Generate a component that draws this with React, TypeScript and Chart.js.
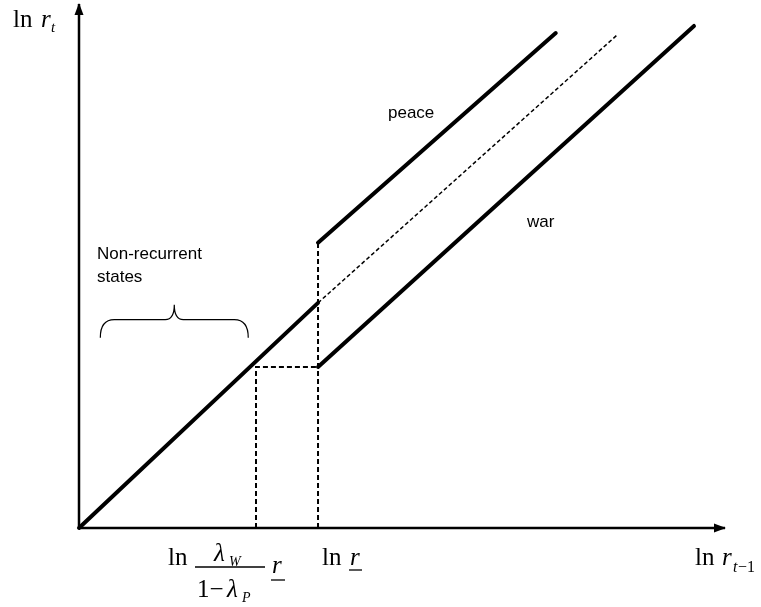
import React, { useEffect, useRef } from "react";
import { Chart, registerables } from "chart.js";

Chart.register(...registerables);

// Data (in ln units)
const xLow = [0, 3.7];
const yLow = [0, 3.48];
const xPeace = [3.7, 7.38];
const yPeace = [4.41, 7.65];
const xWar = [3.7, 9.52];
const yWar = [2.49, 7.76];
const xDotted = [3.7, 8.34];
const yDotted = [3.48, 7.63];
const xThreshold = [3.7, 3.7];
const yThreshold = [0, 4.41];
const xKink = [2.74, 2.74, 3.7];
const yKink = [0, 2.49, 2.49];
const xAxisLine = [0, 10];
const yAxisLine = [0, 0];
const xYAxisLine = [0, 0];
const yYAxisLine = [0, 8.1];
const braceX = [0.33, 2.62];
const braceY = [2.94, 3.22, 3.45];

const pts = (xs: number[], ys: number[]) => xs.map((x, i) => ({ x, y: ys[i] }));

const SERIF = '"Liberation Serif", "Times New Roman", serif';
const SANS = '"Liberation Sans", Arial, sans-serif';

const labelsPlugin = {
  id: "labels",
  afterDatasetsDraw(chart: any) {
    const ctx = chart.ctx;
    const xs = chart.scales.x;
    const ys = chart.scales.y;
    const px = (v: number) => xs.getPixelForValue(v);
    const py = (v: number) => ys.getPixelForValue(v);
    ctx.save();
    ctx.fillStyle = "#000";
    ctx.strokeStyle = "#000";

    // arrowheads
    const ax = px(xAxisLine[1]);
    const ay = py(0);
    ctx.beginPath();
    ctx.moveTo(ax + 1, ay);
    ctx.lineTo(ax - 11, ay - 4.5);
    ctx.lineTo(ax - 11, ay + 4.5);
    ctx.closePath();
    ctx.fill();
    const bx = px(0);
    const by = py(yYAxisLine[1]);
    ctx.beginPath();
    ctx.moveTo(bx, by - 1);
    ctx.lineTo(bx - 4.5, by + 11);
    ctx.lineTo(bx + 4.5, by + 11);
    ctx.closePath();
    ctx.fill();

    // brace
    const L = px(braceX[0]);
    const R = px(braceX[1]);
    const M = (L + R) / 2;
    const yb = py(braceY[0]);
    const yf = py(braceY[1]);
    const yt = py(braceY[2]);
    ctx.lineWidth = 1.2;
    ctx.beginPath();
    ctx.moveTo(L, yb);
    ctx.quadraticCurveTo(L, yf, L + 14, yf);
    ctx.lineTo(M - 9, yf);
    ctx.quadraticCurveTo(M, yf, M, yt);
    ctx.quadraticCurveTo(M, yf, M + 9, yf);
    ctx.lineTo(R - 14, yf);
    ctx.quadraticCurveTo(R, yf, R, yb);
    ctx.stroke();

    ctx.textBaseline = "alphabetic";
    ctx.textAlign = "left";

    // y axis label: ln r_t
    ctx.font = `25px ${SERIF}`;
    ctx.fillText("ln", 13, 27);
    ctx.font = `italic 25px ${SERIF}`;
    ctx.fillText("r", 41, 27);
    ctx.font = `italic 15px ${SERIF}`;
    ctx.fillText("t", 51, 32);

    // x axis label: ln r_{t-1}
    const xl = 695;
    const xb = py(0) + 37;
    ctx.font = `25px ${SERIF}`;
    ctx.fillText("ln", xl, xb);
    ctx.font = `italic 25px ${SERIF}`;
    ctx.fillText("r", xl + 27, xb);
    ctx.font = `italic 16px ${SERIF}`;
    ctx.fillText("t", xl + 38, xb + 7);
    ctx.font = `16px ${SERIF}`;
    ctx.fillText("\u22121", xl + 43, xb + 7);

    // ln r (underlined) under threshold
    const tx = px(xThreshold[0]) + 4;
    ctx.font = `25px ${SERIF}`;
    ctx.fillText("ln", tx, xb);
    ctx.font = `italic 25px ${SERIF}`;
    ctx.fillText("r", tx + 28, xb);
    ctx.lineWidth = 1.3;
    ctx.beginPath();
    ctx.moveTo(tx + 27, xb + 5);
    ctx.lineTo(tx + 40, xb + 5);
    ctx.stroke();

    // ln lambda_W / (1 - lambda_P) r
    const kx = px(xKink[0]);
    const lx = kx - 88;
    ctx.font = `25px ${SERIF}`;
    ctx.fillText("ln", lx, xb);
    const fc = kx - 26; // fraction center
    ctx.font = `italic 25px ${SERIF}`;
    ctx.fillText("\u03bb", fc - 16, xb - 4);
    ctx.font = `italic 14px ${SERIF}`;
    ctx.fillText("W", fc - 1, xb + 1);
    ctx.lineWidth = 1.3;
    ctx.beginPath();
    ctx.moveTo(fc - 35, xb + 2);
    ctx.lineTo(fc + 35, xb + 2);
    ctx.stroke();
    ctx.font = `25px ${SERIF}`;
    ctx.fillText("1\u2212", fc - 33, xb + 32);
    ctx.font = `italic 25px ${SERIF}`;
    ctx.fillText("\u03bb", fc - 3, xb + 32);
    ctx.font = `italic 14px ${SERIF}`;
    ctx.fillText("P", fc + 12, xb + 37);
    ctx.font = `italic 25px ${SERIF}`;
    ctx.fillText("r", fc + 42, xb + 8);
    ctx.beginPath();
    ctx.moveTo(fc + 41, xb + 15);
    ctx.lineTo(fc + 55, xb + 15);
    ctx.stroke();

    // text labels
    ctx.font = `17px ${SANS}`;
    ctx.fillText("peace", 388, 118);
    ctx.fillText("war", 527, 227);
    ctx.fillText("Non-recurrent", 97, 259);
    ctx.fillText("states", 97, 282);

    ctx.restore();
  },
};

export default function App() {
  const ref = useRef<HTMLCanvasElement | null>(null);
  useEffect(() => {
    document.body.style.margin = "0";
    const canvas = ref.current;
    if (!canvas) return;
    const solid = (xs: number[], ys: number[]) => ({
      data: pts(xs, ys),
      showLine: true,
      borderColor: "#000",
      borderWidth: 4,
      borderCapStyle: "round" as const,
      pointRadius: 0,
      clip: false as any,
    });
    const dashed = (xs: number[], ys: number[], w: number, dash: number[]) => ({
      data: pts(xs, ys),
      showLine: true,
      borderColor: "#000",
      borderWidth: w,
      borderDash: dash,
      pointRadius: 0,
      clip: false as any,
    });
    const chart = new Chart(canvas, {
      type: "scatter",
      data: {
        datasets: [
          { ...dashed(xThreshold, yThreshold, 2, [5, 3]) },
          { ...dashed(xKink, yKink, 2, [5, 3]) },
          { ...dashed(xDotted, yDotted, 1.5, [4, 2.5]) },
          { ...solid(xAxisLine, yAxisLine), borderWidth: 2.5, borderCapStyle: "butt" as const },
          { ...solid(xYAxisLine, yYAxisLine), borderWidth: 2.5, borderCapStyle: "butt" as const },
          solid(xLow, yLow),
          solid(xPeace, yPeace),
          solid(xWar, yWar),
        ],
      },
      options: {
        animation: false,
        responsive: false,
        maintainAspectRatio: false,
        layout: { padding: { left: 79, right: 36, top: 4, bottom: 79 } },
        scales: {
          x: { type: "linear", min: 0, max: 10, display: false },
          y: { type: "linear", min: 0, max: 8.1, display: false },
        },
        plugins: { legend: { display: false }, tooltip: { enabled: false } },
      },
      plugins: [labelsPlugin],
    });
    return () => chart.destroy();
  }, []);
  return <canvas ref={ref} width={761} height={607} style={{ display: "block" }} />;
}
